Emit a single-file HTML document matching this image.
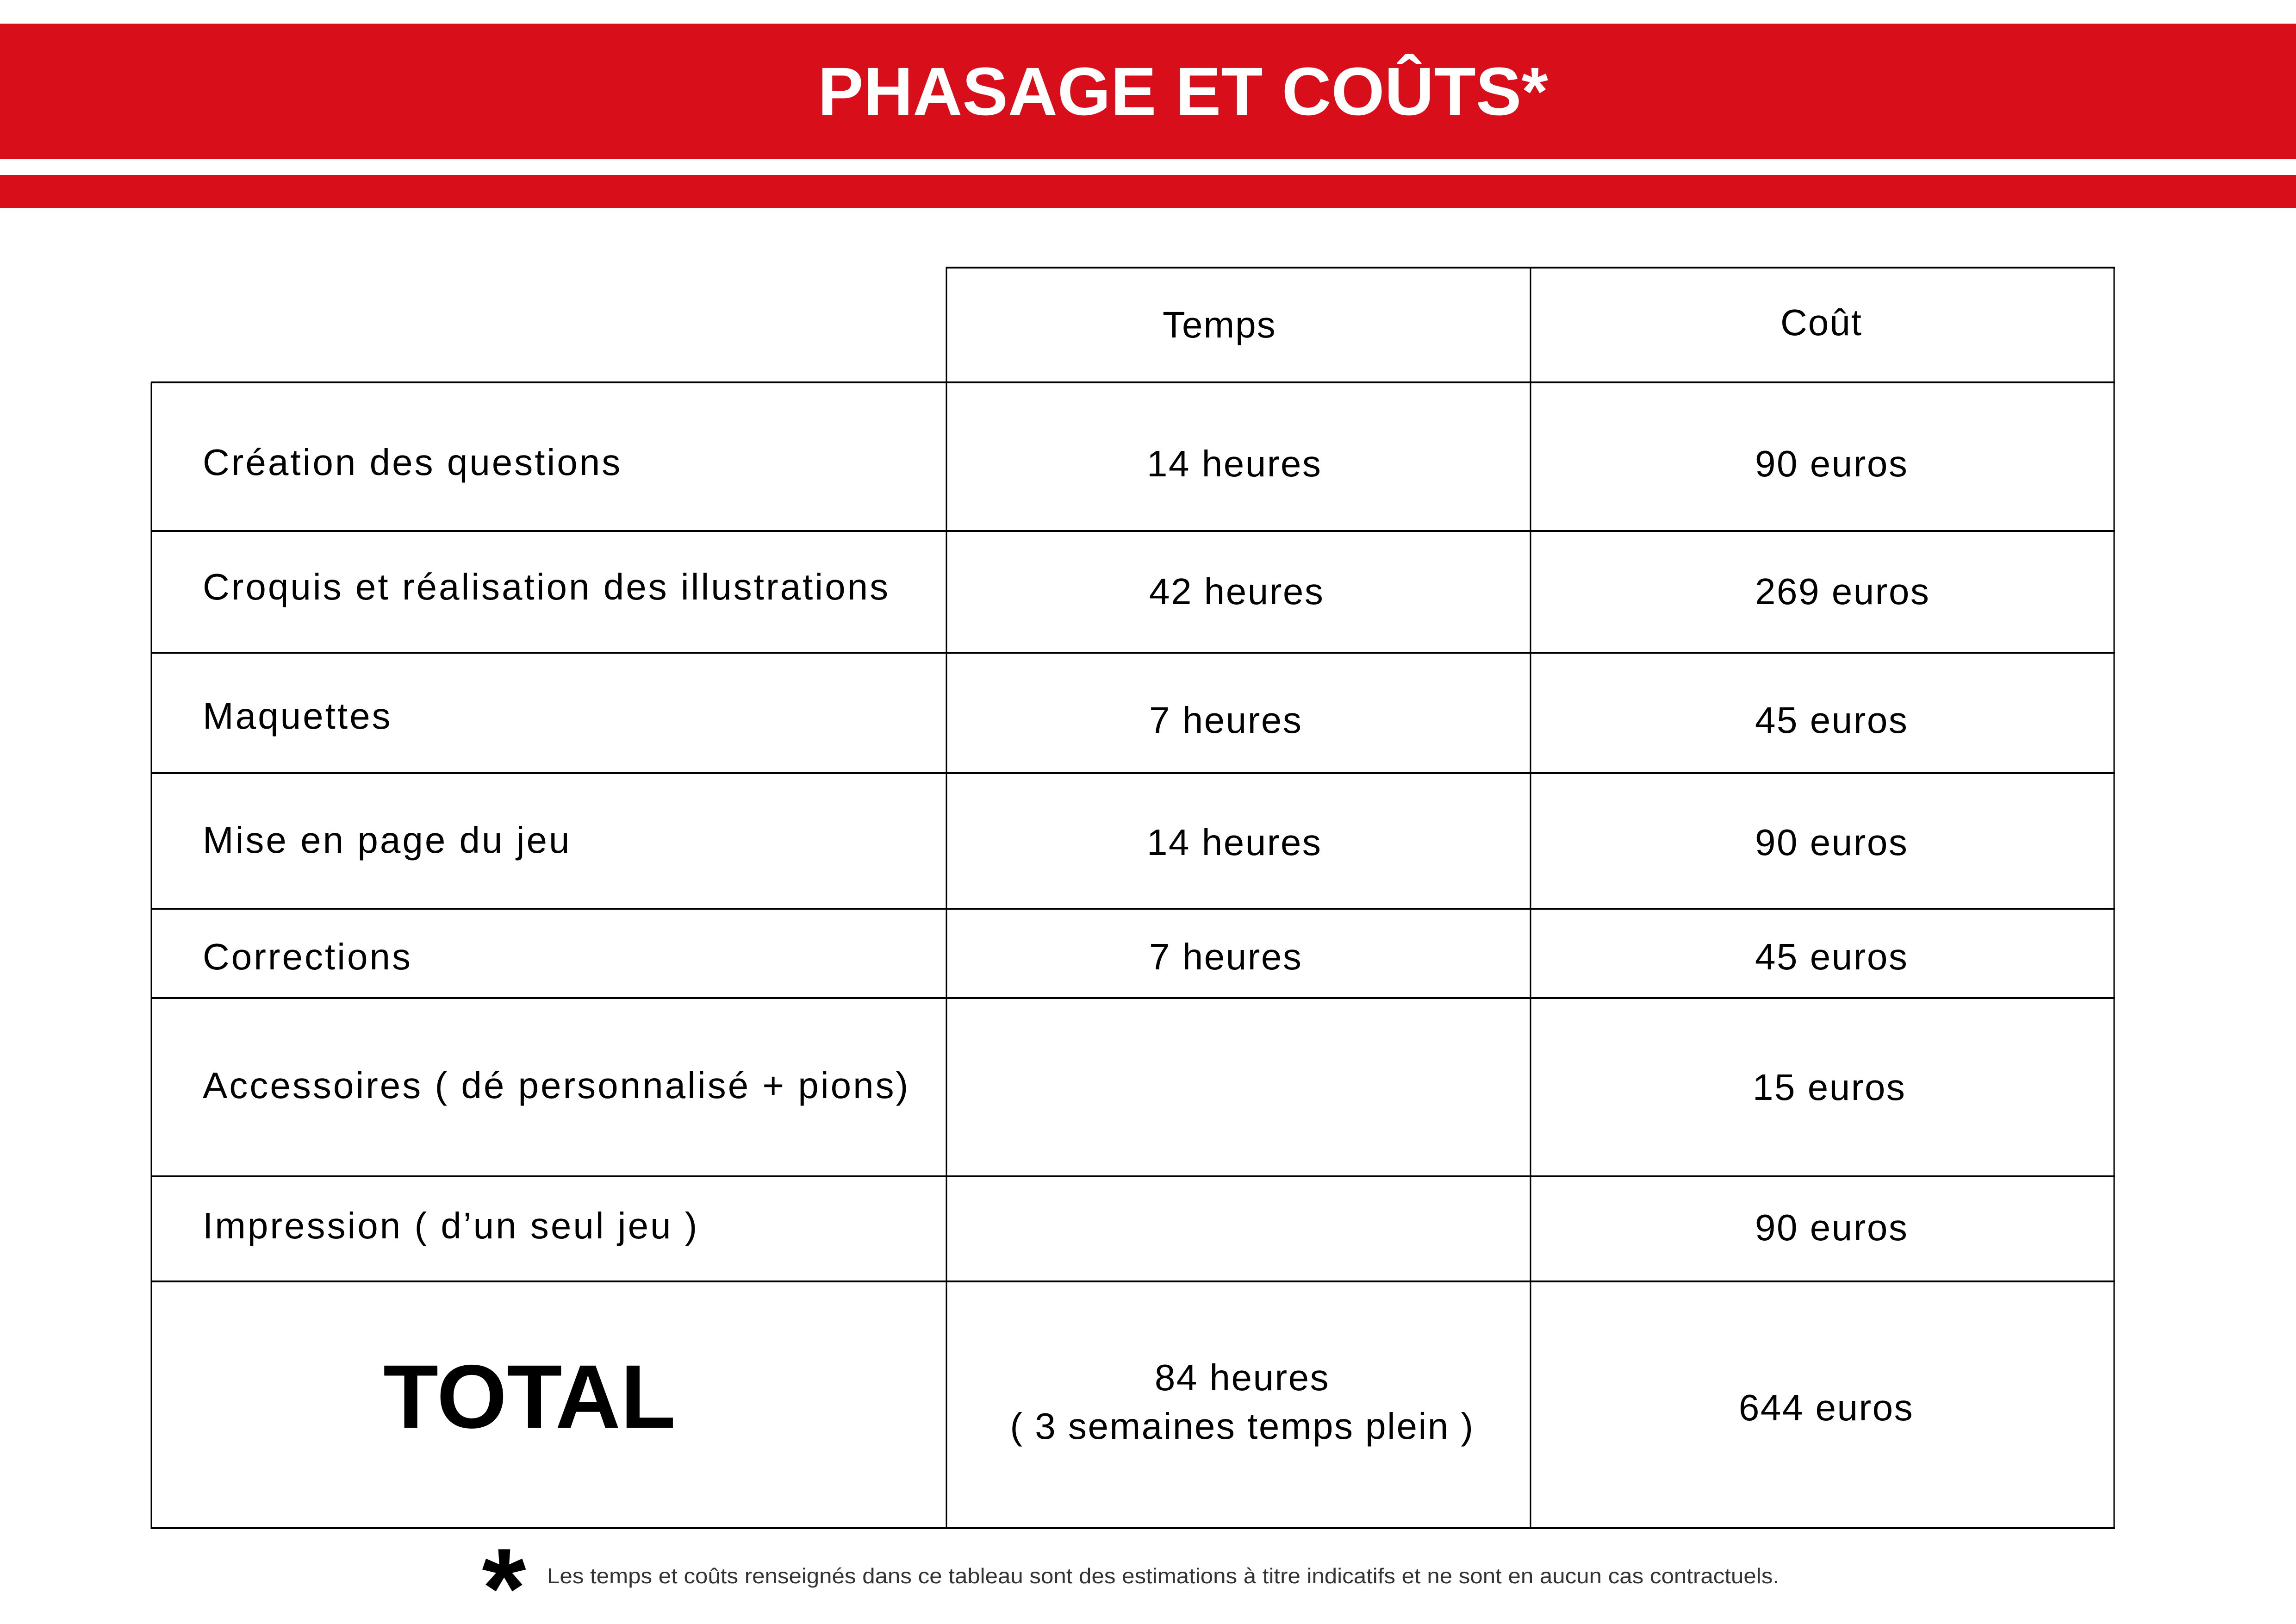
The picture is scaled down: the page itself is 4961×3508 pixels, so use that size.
<!DOCTYPE html>
<html><head><meta charset="utf-8"><style>
html,body{margin:0;padding:0;background:#fff}
svg{display:block}
text{font-family:"Liberation Sans",sans-serif;fill:#000}
</style></head><body>
<svg width="4961" height="3508" viewBox="0 0 4961 3508" xmlns="http://www.w3.org/2000/svg">
<rect x="0" y="51" width="4961" height="292" fill="#D80F1B"/>
<rect x="0" y="378" width="4961" height="71" fill="#D80F1B"/>
<text x="2556" y="248" text-anchor="middle" font-size="147" font-weight="bold" style="fill:#fff" textLength="1578" lengthAdjust="spacingAndGlyphs">PHASAGE ET COÛTS*</text>

<g stroke="#000" fill="none">
<line x1="2044" y1="578" x2="4570" y2="578" stroke-width="4"/>
<line x1="326" y1="826" x2="4570" y2="826" stroke-width="4"/>
<line x1="326" y1="1147" x2="4570" y2="1147" stroke-width="4"/>
<line x1="326" y1="1410" x2="4570" y2="1410" stroke-width="4"/>
<line x1="326" y1="1670" x2="4570" y2="1670" stroke-width="4"/>
<line x1="326" y1="1963" x2="4570" y2="1963" stroke-width="4"/>
<line x1="326" y1="2156" x2="4570" y2="2156" stroke-width="4"/>
<line x1="326" y1="2541" x2="4570" y2="2541" stroke-width="4"/>
<line x1="326" y1="2768" x2="4570" y2="2768" stroke-width="4"/>
<line x1="326" y1="3301" x2="4570" y2="3301" stroke-width="4"/>
<line x1="327" y1="826" x2="327" y2="3303" stroke-width="3"/>
<line x1="2045" y1="576" x2="2045" y2="3303" stroke-width="3"/>
<line x1="3307" y1="576" x2="3307" y2="3303" stroke-width="3"/>
<line x1="4568" y1="576" x2="4568" y2="3303" stroke-width="3"/>
</g>

<g font-size="80" letter-spacing="2">
<text x="2512" y="729">Temps</text>
<text x="3847" y="724">Coût</text>
</g>

<g font-size="80" letter-spacing="4">
<text x="438" y="1026">Création des questions</text>
<text x="438" y="1295">Croquis et réalisation des illustrations</text>
<text x="438" y="1574">Maquettes</text>
<text x="438" y="1842">Mise en page du jeu</text>
<text x="438" y="2094">Corrections</text>
<text x="438" y="2372">Accessoires ( dé personnalisé + pions)</text>
<text x="438" y="2675">Impression ( d’un seul jeu )</text>
</g>

<g font-size="80" letter-spacing="2.5">
<text x="2478" y="1029">14 heures</text>
<text x="2483" y="1305">42 heures</text>
<text x="2483" y="1583">7 heures</text>
<text x="2478" y="1847">14 heures</text>
<text x="2483" y="2094">7 heures</text>
</g>

<g font-size="80" letter-spacing="2.5">
<text x="3792" y="1029">90 euros</text>
<text x="3792" y="1305">269 euros</text>
<text x="3792" y="1583">45 euros</text>
<text x="3792" y="1847">90 euros</text>
<text x="3792" y="2094">45 euros</text>
<text x="3787" y="2376">15 euros</text>
<text x="3792" y="2679">90 euros</text>
</g>

<text x="1144" y="3084" text-anchor="middle" font-size="195" font-weight="bold">TOTAL</text>
<g font-size="80" letter-spacing="2.5">
<text x="2684" y="3003" text-anchor="middle">84 heures</text>
<text x="2684" y="3108" text-anchor="middle">( 3 semaines temps plein )</text>
<text x="3946" y="3068" text-anchor="middle">644 euros</text>
</g>

<text x="1089" y="3515" text-anchor="middle" font-size="245" font-weight="bold">*</text>
<text x="1182" y="3420" font-size="46" style="fill:#333" textLength="2662" lengthAdjust="spacingAndGlyphs">Les temps et coûts renseignés dans ce tableau sont des estimations à titre indicatifs et ne sont en aucun cas contractuels.</text>
</svg>
</body></html>
